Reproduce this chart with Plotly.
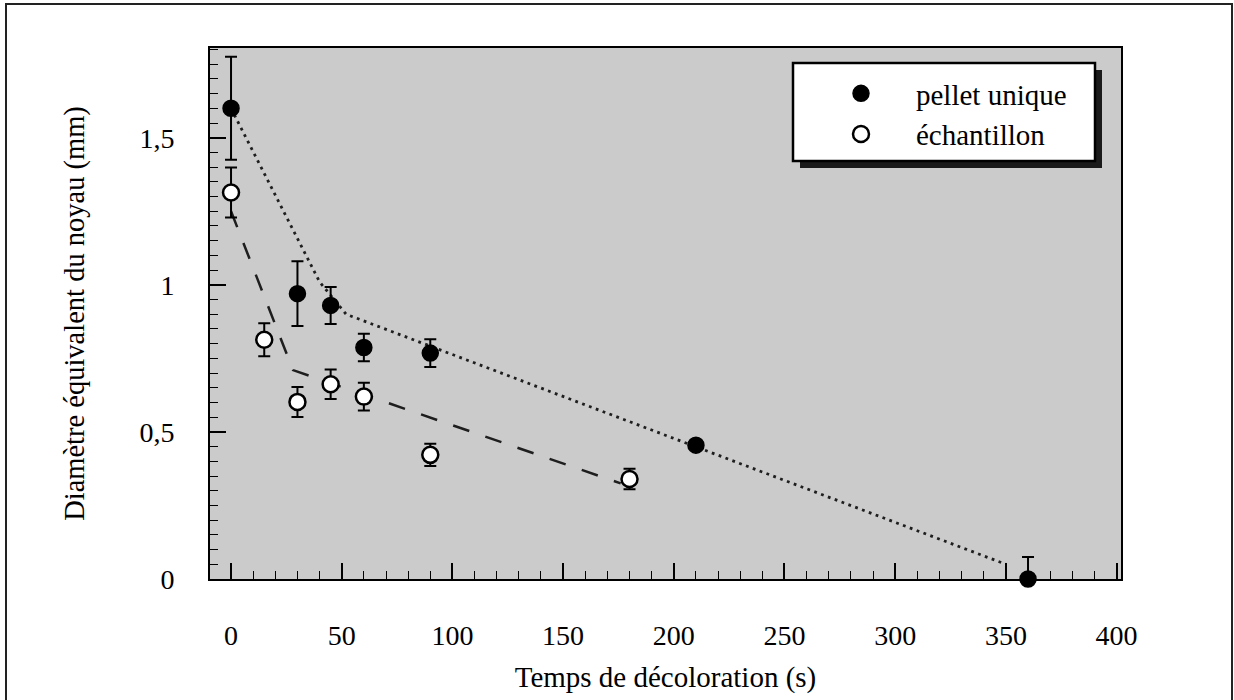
import plotly.graph_objects as go

# Mesures : temps de décoloration (s) et diamètre équivalent du noyau (mm)
pellet_t = [0, 30, 45, 60, 90, 210, 360]
pellet_d = [1.60, 0.97, 0.93, 0.787, 0.768, 0.455, 0.0]
pellet_err = [0.175, 0.11, 0.063, 0.047, 0.047, 0.01, 0.075]

echant_t = [0, 15, 30, 45, 60, 90, 180]
echant_d = [1.314, 0.813, 0.602, 0.662, 0.62, 0.422, 0.34]
echant_err = [0.085, 0.056, 0.051, 0.05, 0.047, 0.038, 0.035]

# Tendances tracées à la main sur la figure
fit_pellet_t = [0, 40, 52, 350]
fit_pellet_d = [1.60, 1.01, 0.90, 0.05]
fit_echant_t = [0, 28, 176]
fit_echant_d = [1.25, 0.71, 0.325]

x_ticks = [0, 50, 100, 150, 200, 250, 300, 350, 400]
y_ticks = [0, 0.5, 1, 1.5]
y_ticklabels = ["0", "0,5", "1", "1,5"]

FONT = "Liberation Serif, Times New Roman, serif"

fig = go.Figure()

fig.add_trace(go.Scatter(
    x=fit_pellet_t, y=fit_pellet_d, mode="lines", showlegend=False,
    line=dict(color="#1e1e1e", width=2.8, dash="2.8px,4.5px"), hoverinfo="skip"))
fig.add_trace(go.Scatter(
    x=fit_echant_t, y=fit_echant_d, mode="lines", showlegend=False,
    line=dict(color="#1e1e1e", width=2.5, dash="17px,17px"), hoverinfo="skip"))

fig.add_trace(go.Scatter(
    x=pellet_t, y=pellet_d, mode="markers", name="pellet unique",
    cliponaxis=False,
    marker=dict(symbol="circle", size=16, color="black",
                line=dict(color="black", width=1.5)),
    error_y=dict(type="data", array=pellet_err, color="black", thickness=2, width=6)))
fig.add_trace(go.Scatter(
    x=echant_t, y=echant_d, mode="markers", name="échantillon",
    cliponaxis=False,
    marker=dict(symbol="circle", size=16, color="white",
                line=dict(color="black", width=2.5)),
    error_y=dict(type="data", array=echant_err, color="black", thickness=2, width=6)))

L, R, T, B = 210, 113, 48, 121
W, H = 1234, 700
pw, ph = W - L - R, H - T - B


def px_x(p):
    return (p - L) / pw


def px_y(p):
    return (H - B - p) / ph


shapes = [
    # cadre extérieur de la figure
    dict(type="rect", xref="paper", yref="paper",
         x0=px_x(6), x1=px_x(1232), y0=px_y(720), y1=px_y(4),
         line=dict(color="#222222", width=2), fillcolor="rgba(0,0,0,0)", layer="above"),
    # ombre portée de la légende
    dict(type="rect", xref="paper", yref="paper",
         x0=px_x(800), x1=px_x(1102), y0=px_y(168), y1=px_y(70),
         line=dict(width=0), fillcolor="#1a1a1a", layer="above"),
    # cadre de la légende
    dict(type="rect", xref="paper", yref="paper",
         x0=px_x(793), x1=px_x(1095), y0=px_y(161), y1=px_y(63),
         line=dict(color="black", width=2.5), fillcolor="white", layer="above"),
]

fig.update_layout(
    width=W, height=H,
    margin=dict(l=L, r=R, t=T, b=B, autoexpand=False),
    paper_bgcolor="white",
    plot_bgcolor="#cbcbcb",
    font=dict(family=FONT, size=28, color="black"),
    shapes=shapes,
    showlegend=True,
    legend=dict(
        x=px_x(806), y=px_y(68), xanchor="left", yanchor="top",
        bgcolor="rgba(0,0,0,0)", borderwidth=0,
        itemwidth=100, font=dict(family=FONT, size=29, color="black"),
        tracegroupgap=0,
    ),
)

fig.update_xaxes(
    range=[-9.5, 402], tickvals=x_ticks, automargin=False,
    ticks="inside", ticklen=16, tickwidth=1.5, tickcolor="black",
    minor=dict(dtick=10, ticks="inside", ticklen=8, tickwidth=1.2, tickcolor="black"),
    showline=True, linecolor="black", linewidth=2, mirror=True,
    showgrid=False, zeroline=False,
    tickfont=dict(family=FONT, size=28),
    ticklabelstandoff=30,
    title=dict(text="Temps de décoloration (s)", standoff=17,
               font=dict(family=FONT, size=29)),
)
fig.update_yaxes(
    range=[0, 1.805], tickvals=y_ticks, ticktext=y_ticklabels, automargin=False,
    ticks="inside", ticklen=16, tickwidth=1.5, tickcolor="black",
    minor=dict(dtick=0.05, ticks="inside", ticklen=8, tickwidth=1.2, tickcolor="black"),
    showline=True, linecolor="black", linewidth=2, mirror=True,
    showgrid=False, zeroline=False,
    tickfont=dict(family=FONT, size=28),
    ticklabelstandoff=28,
    title=dict(text="Diamètre équivalent du noyau (mm)", standoff=46,
               font=dict(family=FONT, size=28.5)),
)

fig.write_html("out.html")
